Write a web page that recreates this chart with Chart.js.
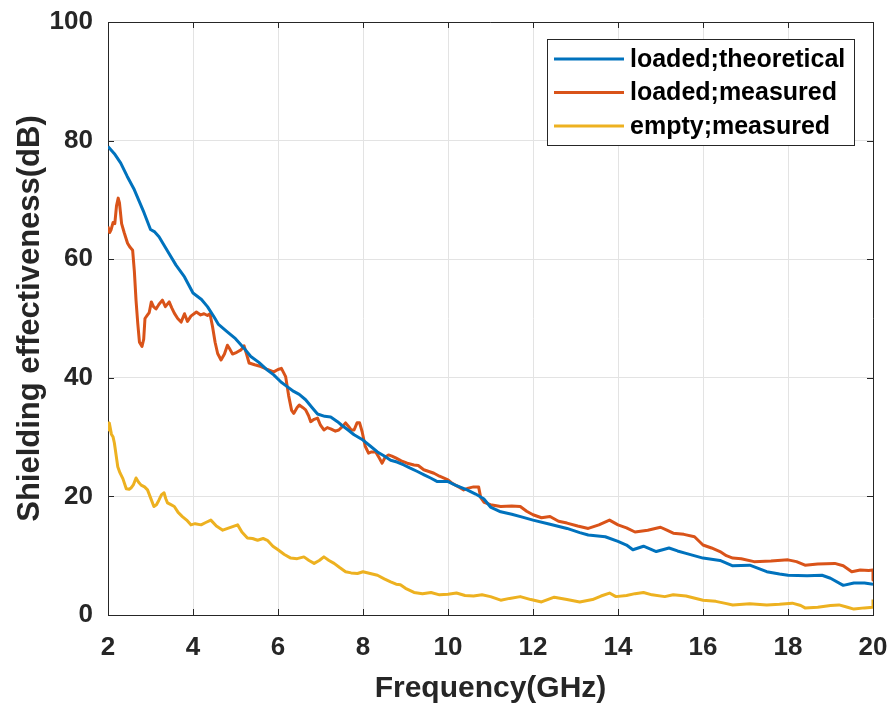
<!DOCTYPE html>
<html>
<head>
<meta charset="utf-8">
<title>Shielding effectiveness</title>
<script src="https://cdn.jsdelivr.net/npm/chart.js@4.4.1/dist/chart.umd.min.js"></script>
<style>
    html, body { margin: 0; padding: 0; background: #fff; }
    #wrap { width: 890px; height: 707px; }
</style>
</head>
<body>
<div id="wrap"><canvas id="se-chart" width="890" height="707"></canvas></div>
<script>
// series labels
const seriesNames = ["loaded;theoretical", "loaded;measured", "empty;measured"];

// loaded box, theoretical curve (GHz / dB)
const freqTheory = [2.0, 2.15, 2.3, 2.45, 2.62, 2.75, 2.85, 3.0, 3.1, 3.2, 3.4, 3.6, 3.8, 4.0, 4.2, 4.34, 4.5, 4.6, 4.8, 5.0,
    5.2, 5.36, 5.55, 5.75, 5.9, 6.07, 6.2, 6.37, 6.5, 6.65, 6.8, 6.93, 7.1, 7.24, 7.4, 7.5, 7.65, 7.79, 8.0, 8.17,
    8.34, 8.5, 8.65, 8.8, 8.96, 9.1, 9.28, 9.45, 9.59, 9.75, 10.0, 10.2, 10.45, 10.65, 10.84, 11.0, 11.24, 11.5, 11.75, 12.0,
    12.4, 12.8, 13.1, 13.3, 13.7, 14.0, 14.2, 14.35, 14.6, 14.9, 15.2, 15.4, 15.6, 16.0, 16.4, 16.7, 17.1, 17.5, 17.8, 18.0,
    18.45, 18.8, 19.0, 19.3, 19.55, 19.8, 20.0];
const seTheory = [79.0, 77.8, 76.2, 74.0, 71.7, 69.5, 67.8, 65.0, 64.6, 63.8, 61.4, 59.0, 57.0, 54.3, 53.2, 52.0, 50.2, 49.0, 47.8, 46.6,
    45.0, 43.6, 42.6, 41.3, 40.5, 39.3, 38.6, 37.7, 37.2, 36.3, 35.0, 33.9, 33.5, 33.4, 32.6, 32.0, 31.2, 30.4, 29.5, 28.5,
    27.5, 26.8, 26.1, 25.8, 25.3, 24.8, 24.2, 23.6, 23.1, 22.5, 22.5, 21.8, 21.1, 20.4, 19.6, 18.2, 17.4, 17.0, 16.5, 16.0,
    15.3, 14.6, 13.9, 13.5, 13.2, 12.4, 11.8, 11.0, 11.6, 10.7, 11.3, 10.8, 10.4, 9.6, 9.2, 8.3, 8.4, 7.3, 6.9, 6.7,
    6.6, 6.7, 6.2, 5.0, 5.4, 5.4, 5.2];

// loaded box, measured
const freqLoaded = [2.0, 2.04, 2.07, 2.12, 2.16, 2.2, 2.24, 2.27, 2.32, 2.38, 2.46, 2.52, 2.58, 2.62, 2.66, 2.7, 2.74, 2.8, 2.84, 2.87,
    2.93, 2.97, 3.02, 3.07, 3.13, 3.2, 3.28, 3.35, 3.44, 3.5, 3.56, 3.64, 3.72, 3.8, 3.87, 3.95, 4.08, 4.18, 4.26, 4.34,
    4.4, 4.46, 4.52, 4.58, 4.66, 4.74, 4.81, 4.87, 4.93, 5.03, 5.13, 5.2, 5.26, 5.32, 5.45, 5.6, 5.75, 5.9, 6.0, 6.08,
    6.18, 6.25, 6.32, 6.37, 6.45, 6.5, 6.58, 6.65, 6.72, 6.77, 6.85, 6.93, 7.0, 7.08, 7.16, 7.24, 7.35, 7.43, 7.52, 7.59,
    7.66, 7.72, 7.79, 7.86, 7.92, 7.98, 8.05, 8.13, 8.2, 8.3, 8.38, 8.45, 8.52, 8.6, 8.68, 8.77, 8.9, 9.04, 9.2, 9.3,
    9.43, 9.55, 9.67, 9.8, 10.0, 10.1, 10.25, 10.37, 10.48, 10.6, 10.72, 10.77, 10.85, 11.0, 11.24, 11.5, 11.7, 11.85, 12.0, 12.2,
    12.4, 12.6, 12.8, 13.05, 13.3, 13.55, 13.8, 14.0, 14.2, 14.4, 14.7, 15.0, 15.15, 15.3, 15.55, 15.8, 16.0, 16.2, 16.4, 16.55,
    16.7, 16.9, 17.2, 17.6, 18.0, 18.2, 18.4, 18.7, 19.1, 19.3, 19.5, 19.7, 19.9, 20.0, 20.0];
const seLoaded = [65.5, 64.5, 64.9, 66.2, 66.0, 69.0, 70.3, 69.5, 66.0, 64.5, 62.7, 62.0, 61.5, 58.0, 53.0, 49.2, 46.0, 45.3, 46.5, 50.0,
    50.6, 51.0, 52.8, 52.0, 51.6, 52.4, 53.1, 52.0, 52.8, 51.8, 50.9, 50.0, 49.4, 50.8, 49.5, 50.4, 51.1, 50.6, 50.8, 50.5,
    50.8, 48.6, 46.0, 44.1, 43.0, 44.0, 45.5, 44.8, 44.0, 44.3, 44.7, 45.4, 44.0, 42.5, 42.2, 41.9, 41.4, 41.0, 41.4, 41.6,
    40.2, 37.0, 34.5, 34.0, 35.0, 35.4, 35.0, 34.6, 33.6, 32.6, 33.0, 33.2, 32.0, 31.2, 31.6, 31.4, 31.0, 31.2, 31.8, 32.4,
    31.8, 31.2, 31.2, 32.4, 32.4, 30.9, 28.5, 27.3, 27.5, 27.5, 26.5, 25.6, 26.6, 27.0, 26.8, 26.5, 26.0, 25.6, 25.3, 25.2,
    24.5, 24.2, 23.9, 23.4, 22.8, 22.2, 21.6, 21.1, 21.4, 21.6, 21.6, 19.8, 19.0, 18.6, 18.3, 18.4, 18.3, 17.5, 16.9, 16.4,
    16.6, 15.8, 15.5, 15.0, 14.6, 15.2, 16.0, 15.2, 14.7, 14.0, 14.3, 14.8, 14.3, 13.8, 13.6, 13.2, 11.8, 11.3, 10.7, 10.0,
    9.6, 9.5, 9.0, 9.1, 9.3, 9.0, 8.4, 8.6, 8.7, 8.3, 7.3, 7.6, 7.5, 7.6, 5.9];

// empty box, measured
const freqEmpty = [2.0, 2.03, 2.08, 2.12, 2.15, 2.2, 2.23, 2.28, 2.35, 2.43, 2.5, 2.54, 2.6, 2.66, 2.72, 2.78, 2.86, 2.93, 3.0, 3.08,
    3.14, 3.2, 3.26, 3.32, 3.36, 3.4, 3.48, 3.56, 3.65, 3.75, 3.85, 3.95, 4.05, 4.19, 4.3, 4.42, 4.55, 4.7, 4.85, 5.05,
    5.15, 5.28, 5.4, 5.52, 5.65, 5.75, 5.88, 6.0, 6.15, 6.3, 6.45, 6.61, 6.73, 6.85, 6.97, 7.08, 7.2, 7.32, 7.45, 7.59,
    7.72, 7.87, 8.0, 8.17, 8.34, 8.5, 8.65, 8.78, 8.88, 9.0, 9.2, 9.4, 9.6, 9.8, 10.0, 10.2, 10.4, 10.6, 10.8, 11.0,
    11.24, 11.45, 11.7, 11.95, 12.2, 12.5, 12.8, 13.1, 13.4, 13.6, 13.8, 13.95, 14.2, 14.4, 14.6, 14.8, 15.1, 15.3, 15.6, 16.0,
    16.3, 16.5, 16.7, 17.1, 17.5, 17.8, 18.1, 18.3, 18.4, 18.7, 19.0, 19.2, 19.4, 19.55, 19.8, 20.0, 20.0];
const seEmpty = [31.0, 32.4, 30.5, 30.0, 29.0, 26.5, 25.0, 24.0, 23.0, 21.3, 21.2, 21.4, 22.0, 23.1, 22.4, 21.9, 21.6, 21.1, 19.8, 18.3,
    18.6, 19.4, 20.3, 20.6, 19.6, 18.9, 18.6, 18.3, 17.3, 16.6, 16.0, 15.2, 15.4, 15.2, 15.6, 16.0, 15.0, 14.3, 14.7, 15.2,
    14.0, 13.0, 12.9, 12.6, 12.9, 12.6, 11.6, 11.0, 10.2, 9.6, 9.5, 9.8, 9.2, 8.7, 9.2, 9.8, 9.2, 8.7, 8.0, 7.3,
    7.1, 7.0, 7.3, 7.0, 6.7, 6.1, 5.6, 5.2, 5.1, 4.5, 3.8, 3.6, 3.8, 3.4, 3.5, 3.7, 3.3, 3.2, 3.4, 3.1,
    2.5, 2.8, 3.1, 2.6, 2.2, 3.0, 2.6, 2.2, 2.6, 3.2, 3.7, 3.1, 3.3, 3.6, 3.8, 3.4, 3.1, 3.4, 3.2, 2.5,
    2.3, 2.0, 1.7, 1.9, 1.7, 1.8, 2.0, 1.6, 1.2, 1.3, 1.6, 1.7, 1.3, 1.0, 1.2, 1.3, 2.6];

// axis ticks
const freqTicks = [2, 4, 6, 8, 10, 12, 14, 16, 18, 20];
const seTicks = [0, 20, 40, 60, 80, 100];

const lineColors = ["#0072BD", "#D95319", "#EDB120"];
const axisColor = "#262626";
const fontFamily = "'Liberation Sans', Arial, Helvetica, sans-serif";

// pairs up x and y arrays into points for a linear x axis
function toPoints(xs, ys) {
    let pts = [];
    for (let i = 0; i < xs.length; i++) {
        pts.push({ x: xs[i], y: ys[i] });
    }
    return pts;
}

// draws the top/right box edges and the inward tick marks on all four sides
const boxAndTicks = {
    id: "boxAndTicks",
    afterDatasetsDraw(chart) {
        const ctx = chart.ctx;
        const area = chart.chartArea;
        const xs = chart.scales.x;
        const ys = chart.scales.y;
        const len = 6;
        ctx.save();
        ctx.strokeStyle = axisColor;
        ctx.lineWidth = 1;
        ctx.beginPath();
        ctx.moveTo(area.left, area.top + 0.5);
        ctx.lineTo(area.right + 0.5, area.top + 0.5);
        ctx.lineTo(area.right + 0.5, area.bottom);
        freqTicks.forEach((t) => {
            const px = Math.round(xs.getPixelForValue(t)) + 0.5;
            ctx.moveTo(px, area.bottom);
            ctx.lineTo(px, area.bottom - len);
            ctx.moveTo(px, area.top);
            ctx.lineTo(px, area.top + len);
        });
        seTicks.forEach((t) => {
            const py = Math.round(ys.getPixelForValue(t)) + 0.5;
            ctx.moveTo(area.left, py);
            ctx.lineTo(area.left + len, py);
            ctx.moveTo(area.right, py);
            ctx.lineTo(area.right - len, py);
        });
        ctx.stroke();
        ctx.restore();
    },
};

// boxed legend in the top right corner of the plot
const boxedLegend = {
    id: "boxedLegend",
    afterDraw(chart) {
        const ctx = chart.ctx;
        const area = chart.chartArea;
        const boxW = 307, boxH = 106, rowH = 33.5;
        const left = area.right - 19 - boxW;
        const top = area.top + 17;
        ctx.save();
        ctx.fillStyle = "#fff";
        ctx.fillRect(left, top, boxW, boxH);
        ctx.strokeStyle = axisColor;
        ctx.lineWidth = 1;
        ctx.strokeRect(Math.round(left) + 0.5, Math.round(top) + 0.5, boxW, boxH);
        ctx.font = "bold 25px " + fontFamily;
        ctx.textBaseline = "middle";
        chart.data.datasets.forEach((ds, i) => {
            const cy = top + 20 + i * rowH;
            ctx.strokeStyle = ds.borderColor;
            ctx.lineWidth = 3;
            ctx.beginPath();
            ctx.moveTo(left + 7, cy);
            ctx.lineTo(left + 77, cy);
            ctx.stroke();
            ctx.fillStyle = "#000";
            ctx.fillText(ds.label, left + 83, cy + 1);
        });
        ctx.restore();
    },
};

let ctx = document.getElementById("se-chart").getContext("2d");

let seChart = new Chart(ctx, {
    type: "line",
    data: {
        datasets: [
            { label: seriesNames[0], data: toPoints(freqTheory, seTheory), borderColor: lineColors[0] },
            { label: seriesNames[1], data: toPoints(freqLoaded, seLoaded), borderColor: lineColors[1] },
            { label: seriesNames[2], data: toPoints(freqEmpty, seEmpty), borderColor: lineColors[2] },
        ],
    },
    options: {
        responsive: false,
        animation: false,
        parsing: false,
        layout: { padding: { left: 12, top: 22, right: 17, bottom: 0 } },
        elements: {
            point: { radius: 0 },
            line: { borderWidth: 3, tension: 0, borderJoinStyle: "round" },
        },
        plugins: {
            legend: { display: false },
            tooltip: { enabled: false },
        },
        scales: {
            x: {
                type: "linear",
                min: 2,
                max: 20,
                afterBuildTicks: (scale) => { scale.ticks = freqTicks.map((v) => ({ value: v })); },
                // fixed axis height, and no extra room for the end labels
                afterFit: (scale) => {
                    scale.height = 92;
                    scale.paddingLeft = 0;
                    scale.paddingRight = 0;
                },
                grid: { color: "#e3e3e3", drawTicks: false },
                border: { color: axisColor, width: 1 },
                ticks: {
                    padding: 17,
                    color: axisColor,
                    maxRotation: 0,
                    font: { family: fontFamily, size: 26, weight: "bold" },
                },
                title: {
                    display: true,
                    text: "Frequency(GHz)",
                    color: axisColor,
                    padding: { top: 0, bottom: 0 },
                    font: { family: fontFamily, size: 30, weight: "bold" },
                },
            },
            y: {
                min: 0,
                max: 100,
                afterBuildTicks: (scale) => { scale.ticks = seTicks.map((v) => ({ value: v })); },
                afterFit: (scale) => {
                    scale.width = 96;
                    scale.paddingTop = 0;
                    scale.paddingBottom = 0;
                },
                grid: { color: "#e3e3e3", drawTicks: false },
                border: { color: axisColor, width: 1 },
                ticks: {
                    padding: 15,
                    color: axisColor,
                    font: { family: fontFamily, size: 26, weight: "bold" },
                },
                title: {
                    display: true,
                    text: "Shielding effectiveness(dB)",
                    color: axisColor,
                    padding: { top: 0, bottom: 0 },
                    font: { family: fontFamily, size: 31, weight: "bold" },
                },
            },
        },
    },
    plugins: [boxAndTicks, boxedLegend],
});
</script>
</body>
</html>
